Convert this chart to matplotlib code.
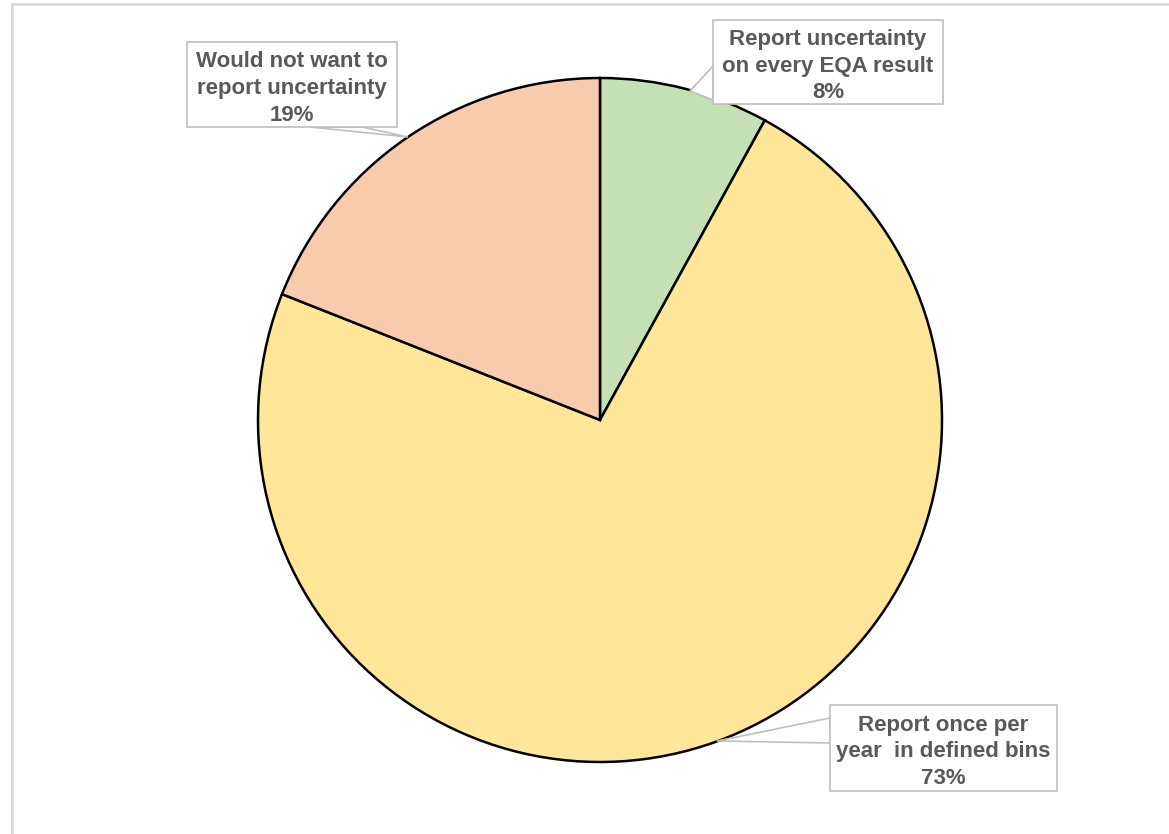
import matplotlib.pyplot as plt
from matplotlib.patches import Rectangle, Polygon

plt.rcParams['font.family'] = ['Liberation Sans', 'DejaVu Sans']

# data
labels = ["Report uncertainty\non every EQA result", "Report once per\nyear  in defined bins", "Would not want to\nreport uncertainty"]
values = [8, 73, 19]
colors = ["#C5E0B4", "#FFE699", "#F8CBAD"]

W, H = 1169, 834
fig = plt.figure(figsize=(W / 100, H / 100), dpi=100)
ax = fig.add_axes([0, 0, 1, 1])

# pie (pixel coords, y up)
cx, cy, r = 600, H - 420, 342
ax.pie(values, colors=colors, startangle=90, counterclock=False,
       center=(cx, cy), radius=r, frame=True,
       wedgeprops=dict(edgecolor='black', linewidth=1.8))
ax.set_xlim(0, W)
ax.set_ylim(0, H)
ax.set_aspect('equal')
ax.axis('off')

# label boxes: (x0, y0_top, x1, y1_bottom) in image px, callout tip, base points
boxes = [
    ((713, 20, 943, 104), (690, 91), [(713, 66), (713, 100)]),
    ((830, 705, 1057, 791), (717, 741), [(830, 718), (830, 743)]),
    ((187, 42, 397, 127), (408, 137), [(310, 127), (362, 127)]),
]
edge = "#BFBFBF"
for (lab, val, (bx, (tx, ty), base)) in zip(labels, values, boxes):
    x0, y0, x1, y1 = bx
    pts = [(base[0][0], H - base[0][1]), (tx, H - ty), (base[1][0], H - base[1][1])]
    ax.add_patch(Polygon(pts, closed=True, facecolor='white', edgecolor=edge, lw=1.2, zorder=5))
    ax.add_patch(Rectangle((x0, H - y1), x1 - x0, y1 - y0, facecolor='white',
                           edgecolor=edge, lw=1.2, zorder=6))
    ax.text((x0 + x1) / 2, H - (y0 + y1) / 2 - 4, f"{lab}\n{val}%", ha='center', va='center',
            fontsize=16, fontweight='bold', color="#595959", linespacing=1.35, zorder=7)

# outer frame
fig.add_artist(plt.Line2D([12 / W, 12 / W], [0, 1 - 4 / H], color="#D9D9D9", lw=2))
fig.add_artist(plt.Line2D([12 / W, 1], [1 - 4 / H, 1 - 4 / H], color="#D9D9D9", lw=2))

fig.savefig("out.png", dpi=100, facecolor='white')
